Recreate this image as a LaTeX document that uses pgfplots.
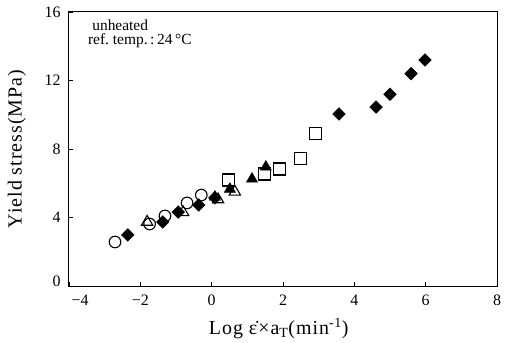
\documentclass[border=0pt]{standalone}
\usepackage{fontspec}
\setmainfont{Liberation Serif}
\newfontfamily\lblfont[LetterSpace=5]{Liberation Serif}
\usepackage{pgfplots}
\pgfplotsset{compat=1.18}
\begin{document}
\begin{tikzpicture}
\begin{axis}[
  scale only axis, width=428bp, height=274bp,
  xmin=-4, xmax=8, ymin=0, ymax=16,
  xtick={-4,-2,0,2,4,6,8},
  xticklabels={{\hspace*{22bp}−4},−2,0,2,4,6,8},
  ytick={0,4,8,12,16},
  yticklabels={{\raisebox{5bp}[\height][\depth]{0}},4,8,12,16},
  tick align=inside, tick pos=left,
  major tick length=4bp,
  axis line style={line width=1bp},
  every tick/.style={line width=0.8bp, black},
  /pgf/number format/assume math mode=true,
  tick label style={font=\fontsize{16}{18}\selectfont},
  xticklabel style={yshift=-5bp},
  yticklabel style={xshift=-5bp},
  label style={font=\lblfont\fontsize{20}{22}\selectfont},
  xlabel={Log ε̇×a\textsubscript{T}(min\textsuperscript{-1})},
  ylabel={Yield stress(MPa)},
  xlabel style={at={(axis description cs:0.49,-0.155)}, anchor=center},
  ylabel style={at={(axis description cs:-0.122,0.5)}, anchor=center},
  clip=false,
]
% open circles
\addplot[only marks, mark=o, mark size=5.8bp, line width=1.1bp] coordinates {
(-2.71,2.57) (-1.74,3.62) (-1.31,4.09) (-0.69,4.85) (-0.29,5.31)
};
% filled diamonds
\addplot[only marks, mark=square*, mark size=4.5bp, mark options={rotate=45}] coordinates {
(-2.35,2.98) (-1.37,3.74) (-0.94,4.32) (-0.36,4.73) (0.09,5.14)
(3.57,10.04) (4.61,10.45) (5.00,11.2) (5.59,12.4) (5.98,13.2)
};
% open triangles
\addplot[only marks, mark=triangle, mark size=6.5bp, line width=1.1bp] coordinates {
(-1.81,3.74) (-0.80,4.3) (0.18,5.05) (0.65,5.5)
};
% filled triangles
\addplot[only marks, mark=triangle*, mark size=6.5bp] coordinates {
(0.09,5.2) (0.51,5.66) (1.13,6.25) (1.52,6.95)
};
% open squares
\addplot[only marks, mark=square, mark size=6bp, line width=1.1bp] coordinates {
(0.46,6.19) (1.49,6.54) (1.89,6.83) (2.50,7.47) (2.90,8.88)
};
\node[anchor=west, font=\fontsize{15.5}{17}\selectfont, inner sep=0pt] at (axis description cs:0.054,0.952) {unheated};
\node[anchor=west, font=\fontsize{15.5}{17}\selectfont, inner sep=0pt] at (axis description cs:0.044,0.894) {ref.\ temp.\,:\,24\,°C};
\end{axis}
\path (-69bp,-57bp) rectangle (442bp,286bp);
\end{tikzpicture}
\end{document}
